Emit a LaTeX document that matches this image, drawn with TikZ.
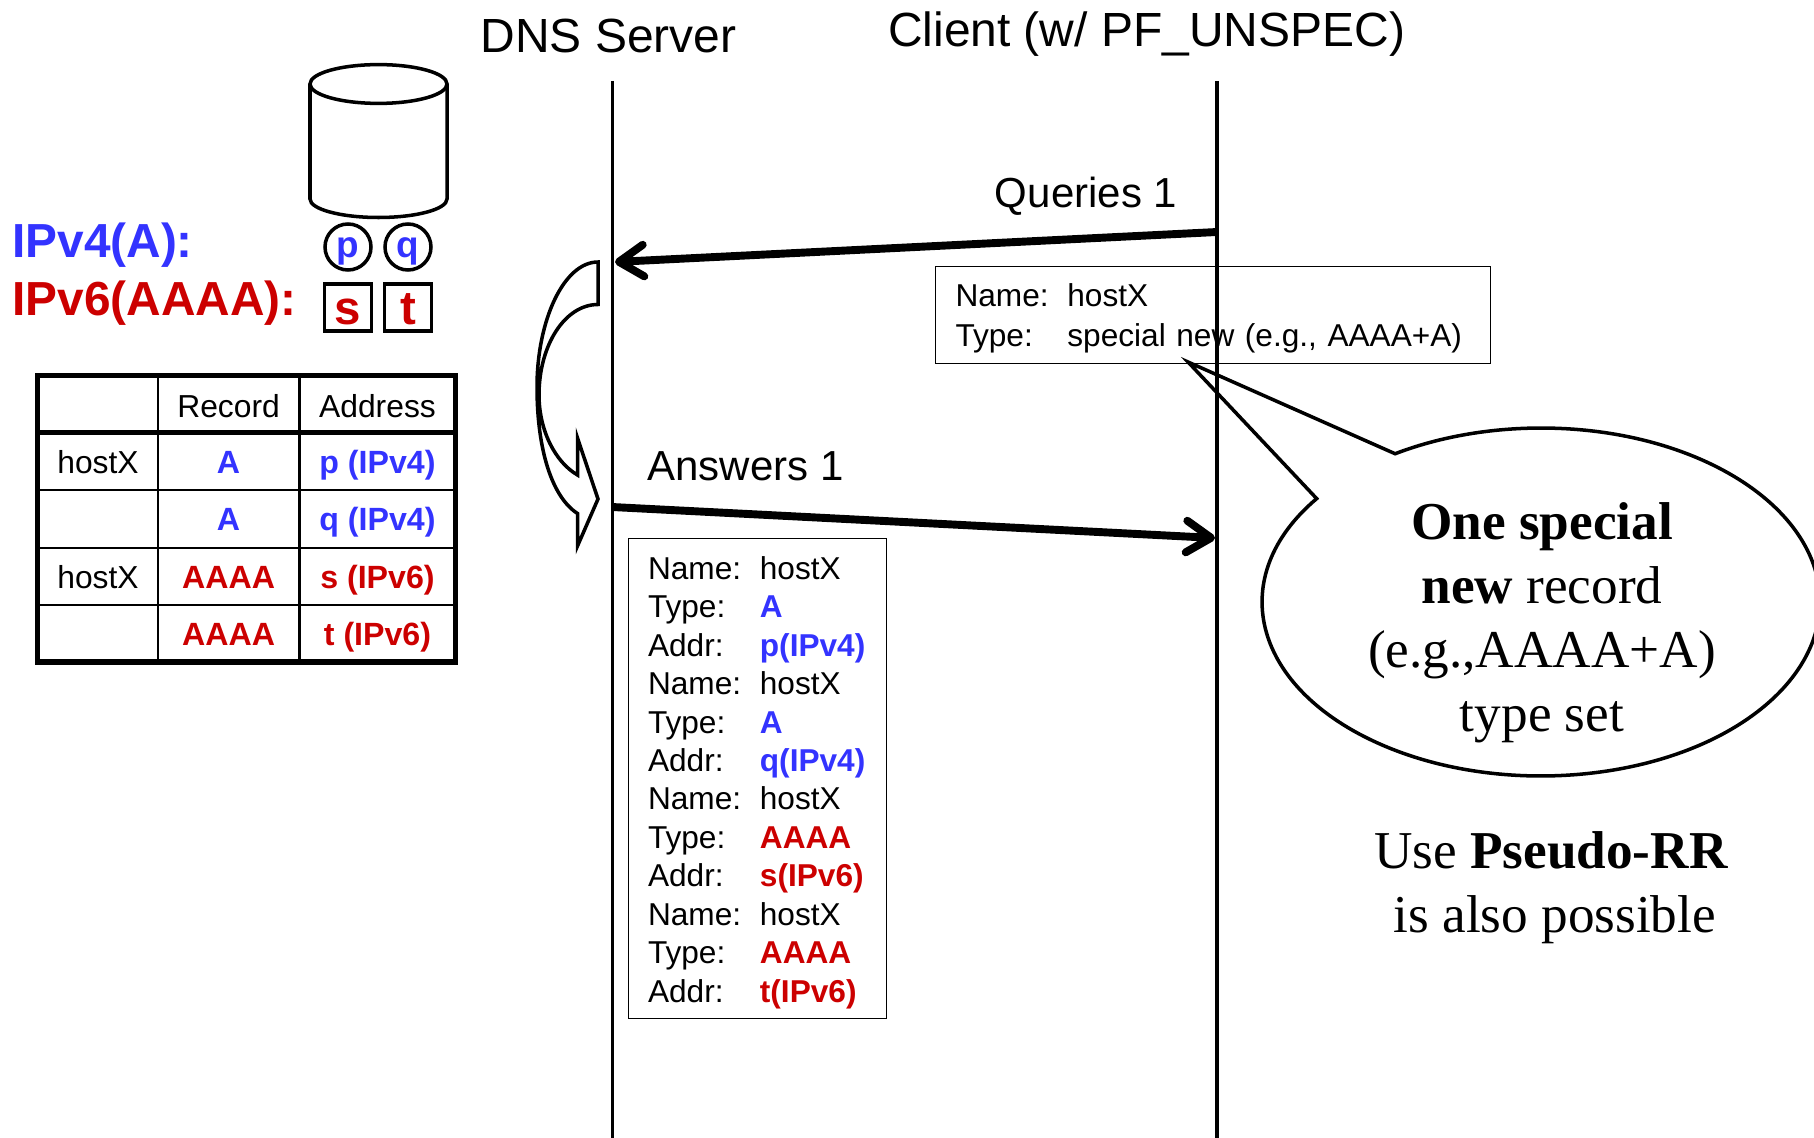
\documentclass[tikz,border=0pt]{standalone}
\usepackage{fontspec}
\setmainfont{Liberation Sans}
\newfontfamily\noteserif{Liberation Serif}
\usetikzlibrary{arrows.meta,positioning,shapes.geometric,shapes.callouts}
\definecolor{IPvFourBlue}{RGB}{51,51,255}
\definecolor{IPvSixRed}{RGB}{204,0,0}

\begin{document}
\begin{tikzpicture}[x=0.02cm, y=-0.02cm, node distance=1cm, auto,
	>={Straight Barb[length=14pt,width=18pt,round]},
	lifeline/.style={line width=1.9pt},
	message/.style={->,line width=4.5pt},
	head/.style={font=\fontsize{27.3}{32}\selectfont,anchor=base,inner sep=0pt},
	msglabel/.style={font=\fontsize{23.9}{28}\selectfont,anchor=base,inner sep=0pt},
	family/.style={font=\fontsize{27.2}{32}\selectfont\bfseries,anchor=base west,inner sep=0pt},
	addrcircle/.style={circle,draw=black,line width=2pt,minimum size=.92cm,inner sep=0pt,outer sep=0pt,
		text=IPvFourBlue,font=\fontsize{21}{26}\selectfont\bfseries,text height=12.5pt,text depth=0pt},
	addrbox/.style={rectangle,draw=black,line width=2pt,minimum size=.94cm,inner sep=0pt,outer sep=0pt,
		text=IPvSixRed,font=\fontsize{27}{32}\selectfont\bfseries,text height=18.8pt,text depth=0pt},
	cell/.style={font=\fontsize{18.1}{21}\selectfont,anchor=base,inner sep=0pt},
	bluecell/.style={cell,text=IPvFourBlue,font=\fontsize{18.3}{21}\selectfont\bfseries},
	redcell/.style={cell,text=IPvSixRed,font=\fontsize{18.3}{21}\selectfont\bfseries},
	msgbox/.style={rectangle,draw=black,line width=.5pt,anchor=north west,inner xsep=.4cm,inner ysep=0pt,
		outer sep=0pt,align=left},
	note/.style={font=\noteserif\fontsize{30.3}{36.4}\selectfont,align=center,anchor=center,inner sep=0pt}]
	\useasboundingbox (0,0) rectangle (1814,1138);

	% server and client
	\coordinate (DNSTop) at (612.5,81);
	\coordinate (DNSBottom) at (612.5,1138);
	\coordinate (ClientTop) at (1217,81);
	\coordinate (ClientBottom) at (1217,1138);
	\path[lifeline] (DNSTop) edge (DNSBottom);
	\path[lifeline] (ClientTop) edge (ClientBottom);
	\node[head] (DNSLabel) at (608.6,53) {DNS Server};
	\node[head] (ClientLabel) at (1146.6,46.4) {Client (w/ PF\_UNSPEC)};

	% database and addresses
	\draw[line width=2pt] (378.5,84) ellipse [x radius=68.5,y radius=19.4];
	\draw[line width=2pt] (310,84) -- (310,199) arc [start angle=180,end angle=0,x radius=68.5,y radius=18.5] -- (447,84);
	\node[family,text=IPvFourBlue] (IPvFourLabel) at (12,258) {IPv4(A):};
	\node[family,text=IPvSixRed] (IPvSixLabel) at (12,315.5) {IPv6(AAAA):};
	\node[addrcircle] (AddrP) at (348,247) {p};
	\node[addrcircle] (AddrQ) [right = .28cm of AddrP] {q};
	\node[addrbox] (AddrS) at (348,307.5) {s};
	\node[addrbox] (AddrT) [right = .26cm of AddrS] {t};

	% record table
	\draw[line width=2.9pt] (37.5,375.5) rectangle (455.5,662);
	\draw[line width=2.9pt] (37.5,432.6) -- (455.5,432.6);
	\foreach \rowy in {490,548,605}
		\draw[line width=1.3pt] (37.5,\rowy) -- (455.5,\rowy);
	\foreach \colx in {158,299.5}
		\draw[line width=1.3pt] (\colx,375.5) -- (\colx,662);
	\node[cell] (RecordHead) at (228.6,417) {Record};
	\node[cell] (AddressHead) at (377.5,417) {Address};
	\node[cell] (HostOne) at (98,473) {hostX};
	\node[bluecell] (RecordP) at (228.6,473) {A};
	\node[bluecell] (AddressP) at (377.5,473) {p (IPv4)};
	\node[bluecell] (RecordQ) at (228.6,530) {A};
	\node[bluecell] (AddressQ) at (377.5,530) {q (IPv4)};
	\node[cell] (HostTwo) at (98,588) {hostX};
	\node[redcell] (RecordS) at (228.6,588) {AAAA};
	\node[redcell] (AddressS) at (377.5,588) {s (IPv6)};
	\node[redcell] (RecordT) at (228.6,645) {AAAA};
	\node[redcell] (AddressT) at (377.5,645) {t (IPv6)};

	% curved arrow beside the server
	\draw[line width=2pt,line join=miter] (598,262) .. controls (564,262) and (537,320) .. (537,387)
		.. controls (537,450) and (552,497) .. (577.5,513.5) -- (577.5,546) -- (598,499) -- (577.5,438) -- (577.5,475)
		.. controls (555,462) and (539,430) .. (539,395) .. controls (539,345) and (565,304.5) .. (598,304.5) -- cycle;

	% messages
	\coordinate (QueryStart) at (1217,232);
	\coordinate (QueryEnd) at (615,262);
	\coordinate (AnswerStart) at (612,507);
	\coordinate (AnswerEnd) at (1215,538);
	\path[message] (QueryStart) edge (QueryEnd);
	\path[message] (AnswerStart) edge (AnswerEnd);
	\node[msglabel] (QueryLabel) at (1086,208) {Queries 1};
	\node[msglabel] (AnswerLabel) at (745.5,480) {Answers 1};

	\node[msgbox,text width=10.3cm,minimum height=1.94cm,font=\fontsize{18}{22.6}\selectfont] (QueryBox) at (935.5,266.5)
		{\begin{tabular}{@{}p{63.7pt}@{}l@{}}
		Name: & hostX\\
		Type: & special new (e.g., AAAA+A)
		\end{tabular}\vspace*{-4pt}};
	\node[msgbox,text width=4.36cm,minimum height=9.62cm,font=\fontsize{18}{21.9}\selectfont] (AnswerBox) at (628,538)
		{\begin{tabular}{@{}p{63.7pt}@{}l@{}}
		Name: & hostX\\
		Type: & \textbf{\color{IPvFourBlue}A}\\
		Addr: & \textbf{\color{IPvFourBlue}p(IPv4)}\\
		Name: & hostX\\
		Type: & \textbf{\color{IPvFourBlue}A}\\
		Addr: & \textbf{\color{IPvFourBlue}q(IPv4)}\\
		Name: & hostX\\
		Type: & \textbf{\color{IPvSixRed}AAAA}\\
		Addr: & \textbf{\color{IPvSixRed}s(IPv6)}\\
		Name: & hostX\\
		Type: & \textbf{\color{IPvSixRed}AAAA}\\
		Addr: & \textbf{\color{IPvSixRed}t(IPv6)}
		\end{tabular}\vspace*{-5.2pt}};

	% speech bubble
	\coordinate (BubbleTip) at (1188,362);
	\node[ellipse callout,draw=black,line width=2pt,minimum width=11.16cm,minimum height=6.96cm,
		inner sep=0pt,outer sep=0pt,callout absolute pointer={(BubbleTip)},callout pointer arc=22] (Bubble) at (1541,602) {};
	\node[note] (BubbleText) at (1542,623) {\textbf{One special}\\\textbf{new} record\\(e.g.,AAAA+A)\\type set};
	\node[note] (PseudoNote) at (1551,888) {Use \textbf{Pseudo-RR}\\\hspace*{.15cm}is also possible};
\end{tikzpicture}
\end{document}
